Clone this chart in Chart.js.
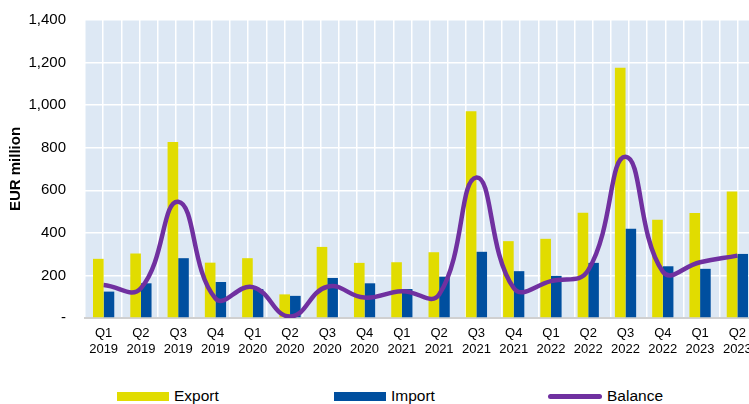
<!DOCTYPE html>
<html>
<head>
<meta charset="utf-8">
<script src="https://cdn.jsdelivr.net/npm/chart.js@4.4.0/dist/chart.umd.min.js"></script>
<style>
  html, body { margin: 0; padding: 0; background: #fff; overflow: hidden; }
  #wrap { position: relative; width: 749px; height: 404px; overflow: hidden; }
  #box { position: absolute; left: 0; top: 0; width: 756px; height: 363px; }
  .lg { position: absolute; font-family: 'Liberation Sans', Arial, sans-serif; font-size: 15.5px; color: #000; line-height: 18px; top: 387px; }
  .sw { position: absolute; }
</style>
</head>
<body>
<div id="wrap">
  <div id="box"><canvas id="chart"></canvas></div>
  <div class="sw" style="left:117px; top:392px; width:52px; height:9px; background:#e1dc00"></div>
  <div class="lg" style="left:174px">Export</div>
  <div class="sw" style="left:334px; top:392px; width:52px; height:9px; background:#004f9f"></div>
  <div class="lg" style="left:391px">Import</div>
  <div class="sw" style="left:548px; top:394px; width:54px; height:5px; border-radius:3px; background:#7030a0"></div>
  <div class="lg" style="left:607px">Balance</div>
</div>
<script>
// Trade in EUR million, quarterly
const quarters = ['Q1', 'Q2', 'Q3', 'Q4', 'Q1', 'Q2', 'Q3', 'Q4', 'Q1', 'Q2', 'Q3', 'Q4', 'Q1', 'Q2', 'Q3', 'Q4', 'Q1', 'Q2'];
const years = ['2019', '2019', '2019', '2019', '2020', '2020', '2020', '2020', '2021', '2021', '2021', '2021', '2022', '2022', '2022', '2022', '2023', '2023'];
const exportValues = [278, 303, 827, 260, 281, 111, 334, 259, 262, 309, 971, 361, 372, 494, 1176, 461, 493, 594];
const importValues = [124, 163, 281, 169, 136, 104, 188, 163, 136, 194, 311, 220, 198, 259, 419, 243, 231, 301];
const balanceValues = [155, 140, 546, 92, 145, 7, 147, 96, 126, 110, 660, 141, 173, 225, 757, 218, 262, 293];

const colors = {
  exp: '#e1dc00',
  imp: '#004f9f',
  bal: '#7030a0',
  plotBg: '#dde8f4',
  grid: '#ffffff',
  axis: '#d0d0d0',
  text: '#000000'
};

Chart.defaults.font.family = "'Liberation Sans', Arial, sans-serif";
Chart.defaults.color = colors.text;

// fill the plot area with the light blue background
const plotBackground = {
  id: 'plotBackground',
  beforeDraw(chart) {
    const { ctx, chartArea: a } = chart;
    ctx.save();
    ctx.fillStyle = colors.plotBg;
    ctx.fillRect(a.left, a.top, a.right - a.left, a.bottom - a.top);
    ctx.restore();
  }
};

// horizontal axes must not push the plot edges inwards
const noSidePadding = (s, h) => {
  s.height = h;
  s.paddingLeft = 0;
  s.paddingRight = 0;
};

const labels = quarters.map((q, i) => [q, years[i]]);

new Chart(document.getElementById('chart'), {
  type: 'bar',
  data: {
    labels,
    datasets: [
      {
        label: 'Export',
        data: exportValues,
        backgroundColor: colors.exp,
        categoryPercentage: 0.57,
        barPercentage: 1.0
      },
      {
        label: 'Import',
        data: importValues,
        backgroundColor: colors.imp,
        categoryPercentage: 0.57,
        barPercentage: 1.0
      },
      {
        type: 'line',
        label: 'Balance',
        data: balanceValues,
        borderColor: colors.bal,
        borderWidth: 4.5,
        tension: 0.45,
        pointRadius: 0,
        fill: false,
        order: -1
      }
    ]
  },
  options: {
    responsive: true,
    maintainAspectRatio: false,
    animation: false,
    layout: { padding: { top: 20, right: 0, bottom: 0, left: 0 } },
    scales: {
      x: {
        offset: true,
        grid: { display: false, drawTicks: false },
        border: { color: colors.axis, width: 2 },
        ticks: { font: { size: 13 }, padding: 8, maxRotation: 0, autoSkip: false },
        afterFit: s => noSidePadding(s, 45)
      },
      xg: {
        type: 'linear',
        position: 'top',
        min: -0.5,
        max: 17.5,
        ticks: { display: false, stepSize: 0.5, maxTicksLimit: 100, autoSkip: false },
        grid: { color: colors.grid, lineWidth: 1.5, drawTicks: false },
        border: { display: false },
        afterFit: s => noSidePadding(s, 0)
      },
      y: {
        min: 0,
        max: 1400,
        ticks: {
          stepSize: 200,
          padding: 19,
          font: { size: 15 },
          callback: v => v === 0 ? '-' : v.toLocaleString('en-US')
        },
        grid: { color: colors.grid, lineWidth: 1.5, drawTicks: false },
        border: { display: false },
        title: {
          display: true,
          text: 'EUR million',
          font: { size: 15, weight: 'bold' },
          padding: { top: 7, bottom: 0 }
        },
        afterFit: s => {
          s.width = 85;
          s.paddingTop = 0;
          s.paddingBottom = 0;
        }
      }
    },
    plugins: {
      legend: { display: false },
      tooltip: { enabled: false }
    }
  },
  plugins: [plotBackground]
});
</script>
</body>
</html>
